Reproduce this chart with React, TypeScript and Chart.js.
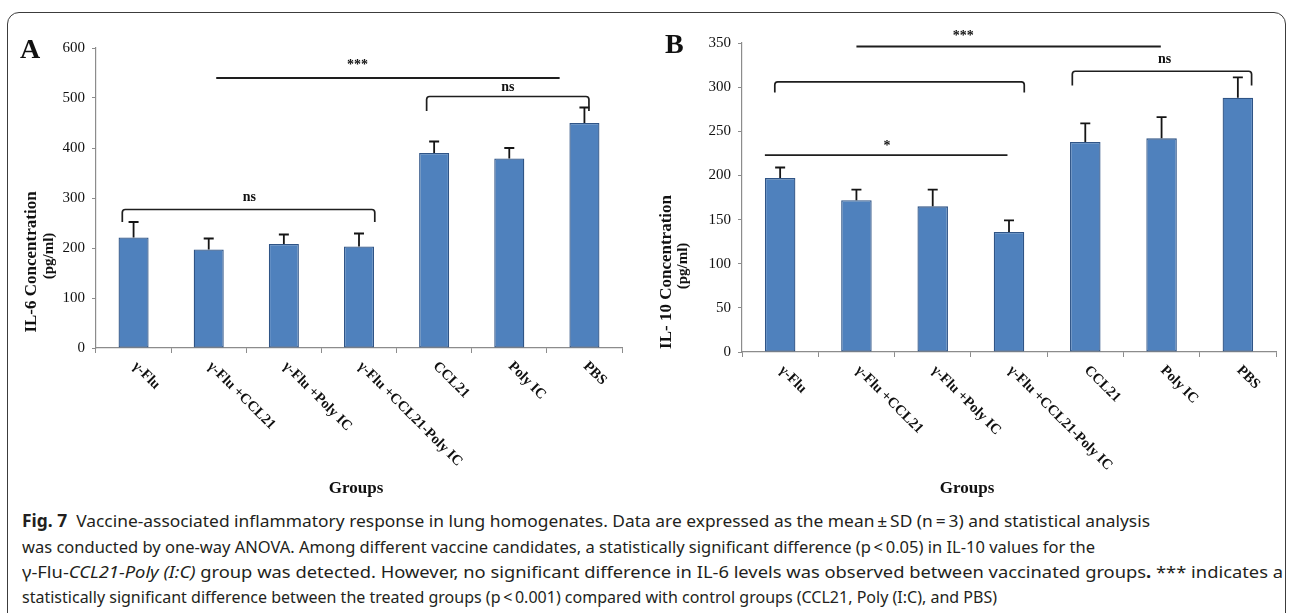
import React, { useEffect, useLayoutEffect, useRef } from "react";
import { Chart, registerables } from "chart.js";

Chart.register(...registerables);

// ---------- data ----------
const groups = ["γ-Flu", "γ-Flu +CCL21", "γ-Flu +Poly IC", "γ-Flu +CCL21-Poly IC", "CCL21", "Poly IC", "PBS"];

const il6Mean = [221, 197, 208, 203, 390, 379, 450];
const il6Sd = [31, 22, 19, 26, 23, 21, 31];
const il6Ticks = [0, 100, 200, 300, 400, 500, 600];

const il10Mean = [197, 172, 165, 136, 238, 242, 288];
const il10Sd = [12, 12, 19, 13, 21, 24, 23];
const il10Ticks = [0, 50, 100, 150, 200, 250, 300, 350];

// significance marks: positions in category-index units and value units
const il6Brackets = [
  { from: -0.15, to: 3.21, top: 277, leg: 252, label: "ns", at: 1.54, labelY: 301 },
  { from: 3.9, to: 6.06, top: 503, leg: 474, label: "ns", at: 4.98, labelY: 521 },
];
const il6Lines = [{ from: 1.1, to: 5.67, y: 540, label: "***", at: 2.98, labelY: 566 }];

const il10Brackets = [
  { from: -0.07, to: 3.2, top: 306, leg: 294, label: "", at: 0, labelY: 0 },
  { from: 3.83, to: 6.18, top: 318, leg: 302, label: "ns", at: 5.04, labelY: 331 },
];
const il10Lines = [
  { from: 1.0, to: 4.99, y: 346, label: "***", at: 2.4, labelY: 357 },
  { from: -0.2, to: 2.98, y: 223, label: "*", at: 1.4, labelY: 233 },
];

const SERIF = "'Liberation Serif', 'Times New Roman', Times, serif";

const decorPlugin = {
  id: "decor",
  afterDraw(chart: any, _args: any, o: any) {
    const ctx = chart.ctx;
    const xs = chart.scales.x;
    const ys = chart.scales.y;
    ctx.save();
    // error bars
    const meta = chart.getDatasetMeta(0);
    meta.data.forEach((bar: any, i: number) => {
      const px = bar.x;
      const y0 = ys.getPixelForValue(o.mean[i]);
      const y1 = ys.getPixelForValue(o.mean[i] + o.sd[i]);
      ctx.strokeStyle = "#151515";
      ctx.lineWidth = 1.8;
      ctx.beginPath();
      ctx.moveTo(px, y0);
      ctx.lineTo(px, y1);
      ctx.moveTo(px - 5, y1);
      ctx.lineTo(px + 5, y1);
      ctx.stroke();
    });
    ctx.strokeStyle = "#1e1e1e";
    ctx.fillStyle = "#111";
    ctx.lineJoin = "round";
    ctx.font = `bold 14px ${SERIF}`;
    ctx.textAlign = "center";
    ctx.textBaseline = "middle";
    o.brackets.forEach((b: any) => {
      const x1 = xs.getPixelForValue(b.from);
      const x2 = xs.getPixelForValue(b.to);
      const yt = ys.getPixelForValue(b.top);
      const yl = ys.getPixelForValue(b.leg);
      ctx.lineWidth = 1.7;
      ctx.beginPath();
      ctx.moveTo(x1, yl);
      ctx.lineTo(x1, yt + 3);
      ctx.quadraticCurveTo(x1, yt, x1 + 3, yt);
      ctx.lineTo(x2 - 3, yt);
      ctx.quadraticCurveTo(x2, yt, x2, yt + 3);
      ctx.lineTo(x2, yl);
      ctx.stroke();
      if (b.label) ctx.fillText(b.label, xs.getPixelForValue(b.at), ys.getPixelForValue(b.labelY));
    });
    o.lines.forEach((l: any) => {
      const yy = ys.getPixelForValue(l.y);
      ctx.lineWidth = 1.9;
      ctx.beginPath();
      ctx.moveTo(xs.getPixelForValue(l.from), yy);
      ctx.lineTo(xs.getPixelForValue(l.to), yy);
      ctx.stroke();
      ctx.fillText(l.label, xs.getPixelForValue(l.at), ys.getPixelForValue(l.labelY));
    });
    // rotated category labels
    ctx.font = `bold 14.5px ${SERIF}`;
    ctx.textAlign = "left";
    ctx.textBaseline = "middle";
    o.labels.forEach((lab: string, i: number) => {
      ctx.save();
      ctx.translate(xs.getPixelForValue(i) + 1, xs.top + 16);
      ctx.rotate(Math.PI / 4);
      ctx.fillText(lab, 0, 0);
      ctx.restore();
    });
    // x title
    ctx.textAlign = "center";
    ctx.font = `bold 17px ${SERIF}`;
    ctx.fillText("Groups", o.groupsX, o.groupsY);
    // y title (two lines)
    ctx.save();
    ctx.translate(o.titleX1, o.titleY);
    ctx.rotate(-Math.PI / 2);
    ctx.font = `bold 17px ${SERIF}`;
    ctx.fillText(o.title1, 0, 0);
    ctx.restore();
    ctx.save();
    ctx.translate(o.titleX2, o.titleY - 6);
    ctx.rotate(-Math.PI / 2);
    ctx.font = `bold 15px ${SERIF}`;
    ctx.fillText(o.title2, 0, 0);
    ctx.restore();
    // panel letter
    ctx.textAlign = "left";
    ctx.textBaseline = "alphabetic";
    ctx.font = `bold 28px ${SERIF}`;
    ctx.fillText(o.letter, o.letterX, o.letterY);
    ctx.restore();
  },
};

function makeChart(canvas: HTMLCanvasElement, cfg: any) {
  const W = canvas.width;
  const H = canvas.height;
  return new Chart(canvas, {
    type: "bar",
    data: {
      labels: groups,
      datasets: [
        {
          data: cfg.mean,
          backgroundColor: "#4F81BD",
          borderColor: "#2F5486",
          borderWidth: 1.3,
          borderSkipped: false,
          barPercentage: 0.4,
          categoryPercentage: 1.0,
        },
      ],
    },
    options: {
      animation: false,
      responsive: false,
      devicePixelRatio: 1,
      layout: { padding: { left: 0, top: cfg.top, right: W - cfg.right, bottom: 0 } },
      plugins: {
        legend: { display: false },
        tooltip: { enabled: false },
        decor: {
          mean: cfg.mean,
          sd: cfg.sd,
          brackets: cfg.brackets,
          lines: cfg.lines,
          labels: groups,
          groupsX: cfg.groupsX,
          groupsY: 489,
          title1: cfg.title1,
          title2: "(pg/ml)",
          titleX1: cfg.titleX1,
          titleX2: cfg.titleX2,
          titleY: cfg.titleY,
          letter: cfg.letter,
          letterX: cfg.letterX,
          letterY: cfg.letterY,
        },
      } as any,
      scales: {
        x: {
          grid: { display: true, drawOnChartArea: false, drawTicks: true, tickLength: 5, color: "#8c8c8c", offset: true },
          border: { display: true, color: "#8c8c8c", width: 1.2 },
          ticks: { display: false },
          afterFit: (s: any) => {
            s.height = H - cfg.bottom;
          },
        },
        y: {
          min: cfg.ticks[0],
          max: cfg.ticks[cfg.ticks.length - 1],
          afterBuildTicks: (s: any) => {
            s.ticks = cfg.ticks.map((v: number) => ({ value: v }));
          },
          grid: { display: true, drawOnChartArea: false, drawTicks: true, tickLength: 4, color: "#8c8c8c" },
          border: { display: true, color: "#8c8c8c", width: 1.2 },
          ticks: { padding: 7, color: "#111", font: { family: SERIF, size: 15 } },
          afterFit: (s: any) => {
            s.width = cfg.left;
          },
        },
      },
    },
    plugins: [decorPlugin],
  } as any);
}

const captionLines: { t: string; b?: boolean; i?: boolean }[][] = [
  [
    { t: "Fig. 7", b: true },
    { t: "  Vaccine-associated inflammatory response in lung homogenates. Data are expressed as the mean\u2009±\u2009SD (n\u2009=\u20093) and statistical analysis" },
  ],
  [{ t: "was conducted by one-way ANOVA. Among different vaccine candidates, a statistically significant difference (p\u2009<\u20090.05) in IL-10 values for the" }],
  [
    { t: "γ-Flu-" },
    { t: "CCL21-Poly (I:C)", i: true },
    { t: " group was detected. However, no significant difference in IL-6 levels was observed between vaccinated groups" },
    { t: ".", b: true },
    { t: " *** indicates a" },
  ],
  [{ t: "statistically significant difference between the treated groups (p\u2009<\u20090.001) compared with control groups (CCL21, Poly (I:C), and PBS)" }],
];
const captionTargets = [1128, 1073, 1261, 975];
const captionY = [521, 547, 572, 597];

export default function App() {
  const refA = useRef<HTMLCanvasElement>(null);
  const refB = useRef<HTMLCanvasElement>(null);
  const capRefs = useRef<(HTMLSpanElement | null)[]>([]);

  useEffect(() => {
    const a = makeChart(refA.current!, {
      mean: il6Mean,
      sd: il6Sd,
      ticks: il6Ticks,
      brackets: il6Brackets,
      lines: il6Lines,
      left: 96,
      right: 622,
      top: 48,
      bottom: 348,
      groupsX: 356,
      title1: "IL-6 Concentration",
      titleX1: 32,
      titleX2: 49,
      titleY: 262,
      letter: "A",
      letterX: 20,
      letterY: 58,
    });
    const b = makeChart(refB.current!, {
      mean: il10Mean,
      sd: il10Sd,
      ticks: il10Ticks,
      brackets: il10Brackets,
      lines: il10Lines,
      left: 97,
      right: 631,
      top: 43,
      bottom: 352,
      groupsX: 322,
      title1: "IL- 10 Concentration",
      titleX1: 22,
      titleX2: 38,
      titleY: 272,
      letter: "B",
      letterX: 20,
      letterY: 53,
    });
    return () => {
      a.destroy();
      b.destroy();
    };
  }, []);

  useLayoutEffect(() => {
    capRefs.current.forEach((el, i) => {
      if (!el) return;
      el.style.transform = "none";
      const w = el.getBoundingClientRect().width;
      if (w > 0) el.style.transform = `scaleX(${captionTargets[i] / w})`;
    });
  }, []);

  return (
    <div style={{ position: "absolute", left: 0, top: 0, width: 1290, height: 613, overflow: "hidden", background: "#fff" }}>
      <div
        style={{
          position: "absolute",
          left: 7,
          top: 12,
          width: 1279,
          height: 700,
          border: "1.5px solid #3c3c3c",
          borderRadius: 12,
          boxSizing: "border-box",
        }}
      />
      <canvas ref={refA} width={645} height={505} style={{ position: "absolute", left: 0, top: 0 }} />
      <canvas ref={refB} width={645} height={505} style={{ position: "absolute", left: 645, top: 0 }} />
      {captionLines.map((line, i) => (
        <div
          key={i}
          style={{
            position: "absolute",
            left: 22,
            top: captionY[i] - 11,
            height: 22,
            lineHeight: "22px",
            whiteSpace: "nowrap",
            fontFamily: "'Noto Sans', 'Open Sans', 'DejaVu Sans', sans-serif",
            fontSize: 17,
            color: "#231f20",
          }}
        >
          <span
            ref={(el) => {
              capRefs.current[i] = el;
            }}
            style={{ display: "inline-block", transformOrigin: "0 50%", whiteSpace: "pre" }}
          >
            {line.map((p, j) => (
              <span key={j} style={{ fontWeight: p.b ? 700 : 400, fontStyle: p.i ? "italic" : "normal" }}>
                {p.t}
              </span>
            ))}
          </span>
        </div>
      ))}
    </div>
  );
}
